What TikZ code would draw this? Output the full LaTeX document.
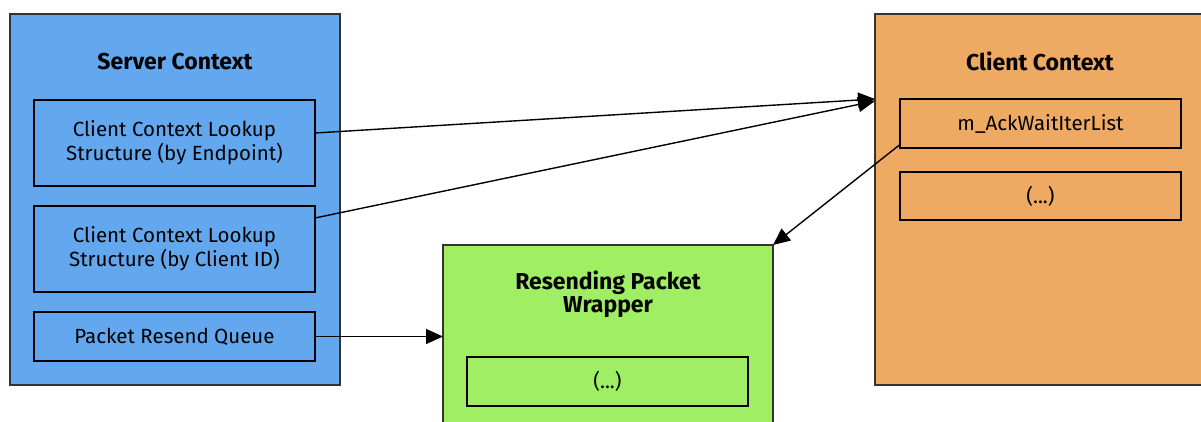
\documentclass[tikz,border=0pt]{standalone}
\usepackage{fontspec}
\setmainfont{Fira Sans}
\usetikzlibrary{arrows.meta}
\definecolor{serverblue}{HTML}{63A8EE}
\definecolor{clientorange}{HTML}{EEA963}
\definecolor{wrapgreen}{HTML}{A0EE63}
\definecolor{frame}{HTML}{333333}
\tikzset{
  outerbox/.style={draw=frame, line width=1.5pt, minimum width=#1, inner sep=0pt, outer sep=0pt},
  field/.style={draw=black, line width=1.6pt, minimum width=281pt, inner sep=0pt, outer sep=0pt,
    align=center, font=\fontsize{20.5}{24}\selectfont},
  heading/.style={font=\fontsize{23}{23}\selectfont\bfseries, align=center},
  link/.style={draw=black, line width=1.4pt, -{Triangle[length=17pt,width=15pt]}}
}
\begin{document}
\begin{tikzpicture}[x=1pt,y=-1pt]
\useasboundingbox (0,0) rectangle (1201,421);
\clip (0,0) rectangle (1201,421);

% Server context with its lookup structures and queue
\node[outerbox=330pt, fill=serverblue, minimum height=371pt] (srv) at (175,199.5) {};
\node[heading] (srvt) at (175,62) {Server Context};
\node[field, minimum height=86pt] (byep) at (174.5,143) {Client Context Lookup\\Structure (by Endpoint)};
\node[field, minimum height=86pt] (byid) at (174.5,249) {Client Context Lookup\\Structure (by Client ID)};
\node[field, minimum height=49pt] (queue) at (174.5,336.5) {Packet Resend Queue};

% Resending packet wrapper (runs past the lower edge)
\node[outerbox=330pt, fill=wrapgreen, minimum height=205pt] (wrap) at (608,347.5) {};
\node[heading] (wrapt) at (608,294) {Resending Packet\\Wrapper};
\node[field, minimum height=49pt] (wrapdots) at (607.5,381.5) {(...)};

% Client context (runs past the right edge)
\node[outerbox=335pt, fill=clientorange, minimum height=371pt] (cli) at (1042.5,199.5) {};
\node[heading] (clit) at (1040,61) {Client Context};
\node[field, minimum height=49pt] (ack) at (1040.5,123.5) {m\_AckWaitIterList};
\node[field, minimum height=48pt] (clidots) at (1040.5,196) {(...)};

% References between the structures
\draw[link] ([yshift=10pt]byep.east) -- ([yshift=-85pt]cli.north west);
\draw[link] ([yshift=31pt]byid.east) -- ([yshift=-87pt]cli.north west);
\draw[link] (queue.east) -- (queue.east -| wrap.west);
\draw[link] ([yshift=-21pt]ack.west) -- (wrap.north east);
\end{tikzpicture}
\end{document}
